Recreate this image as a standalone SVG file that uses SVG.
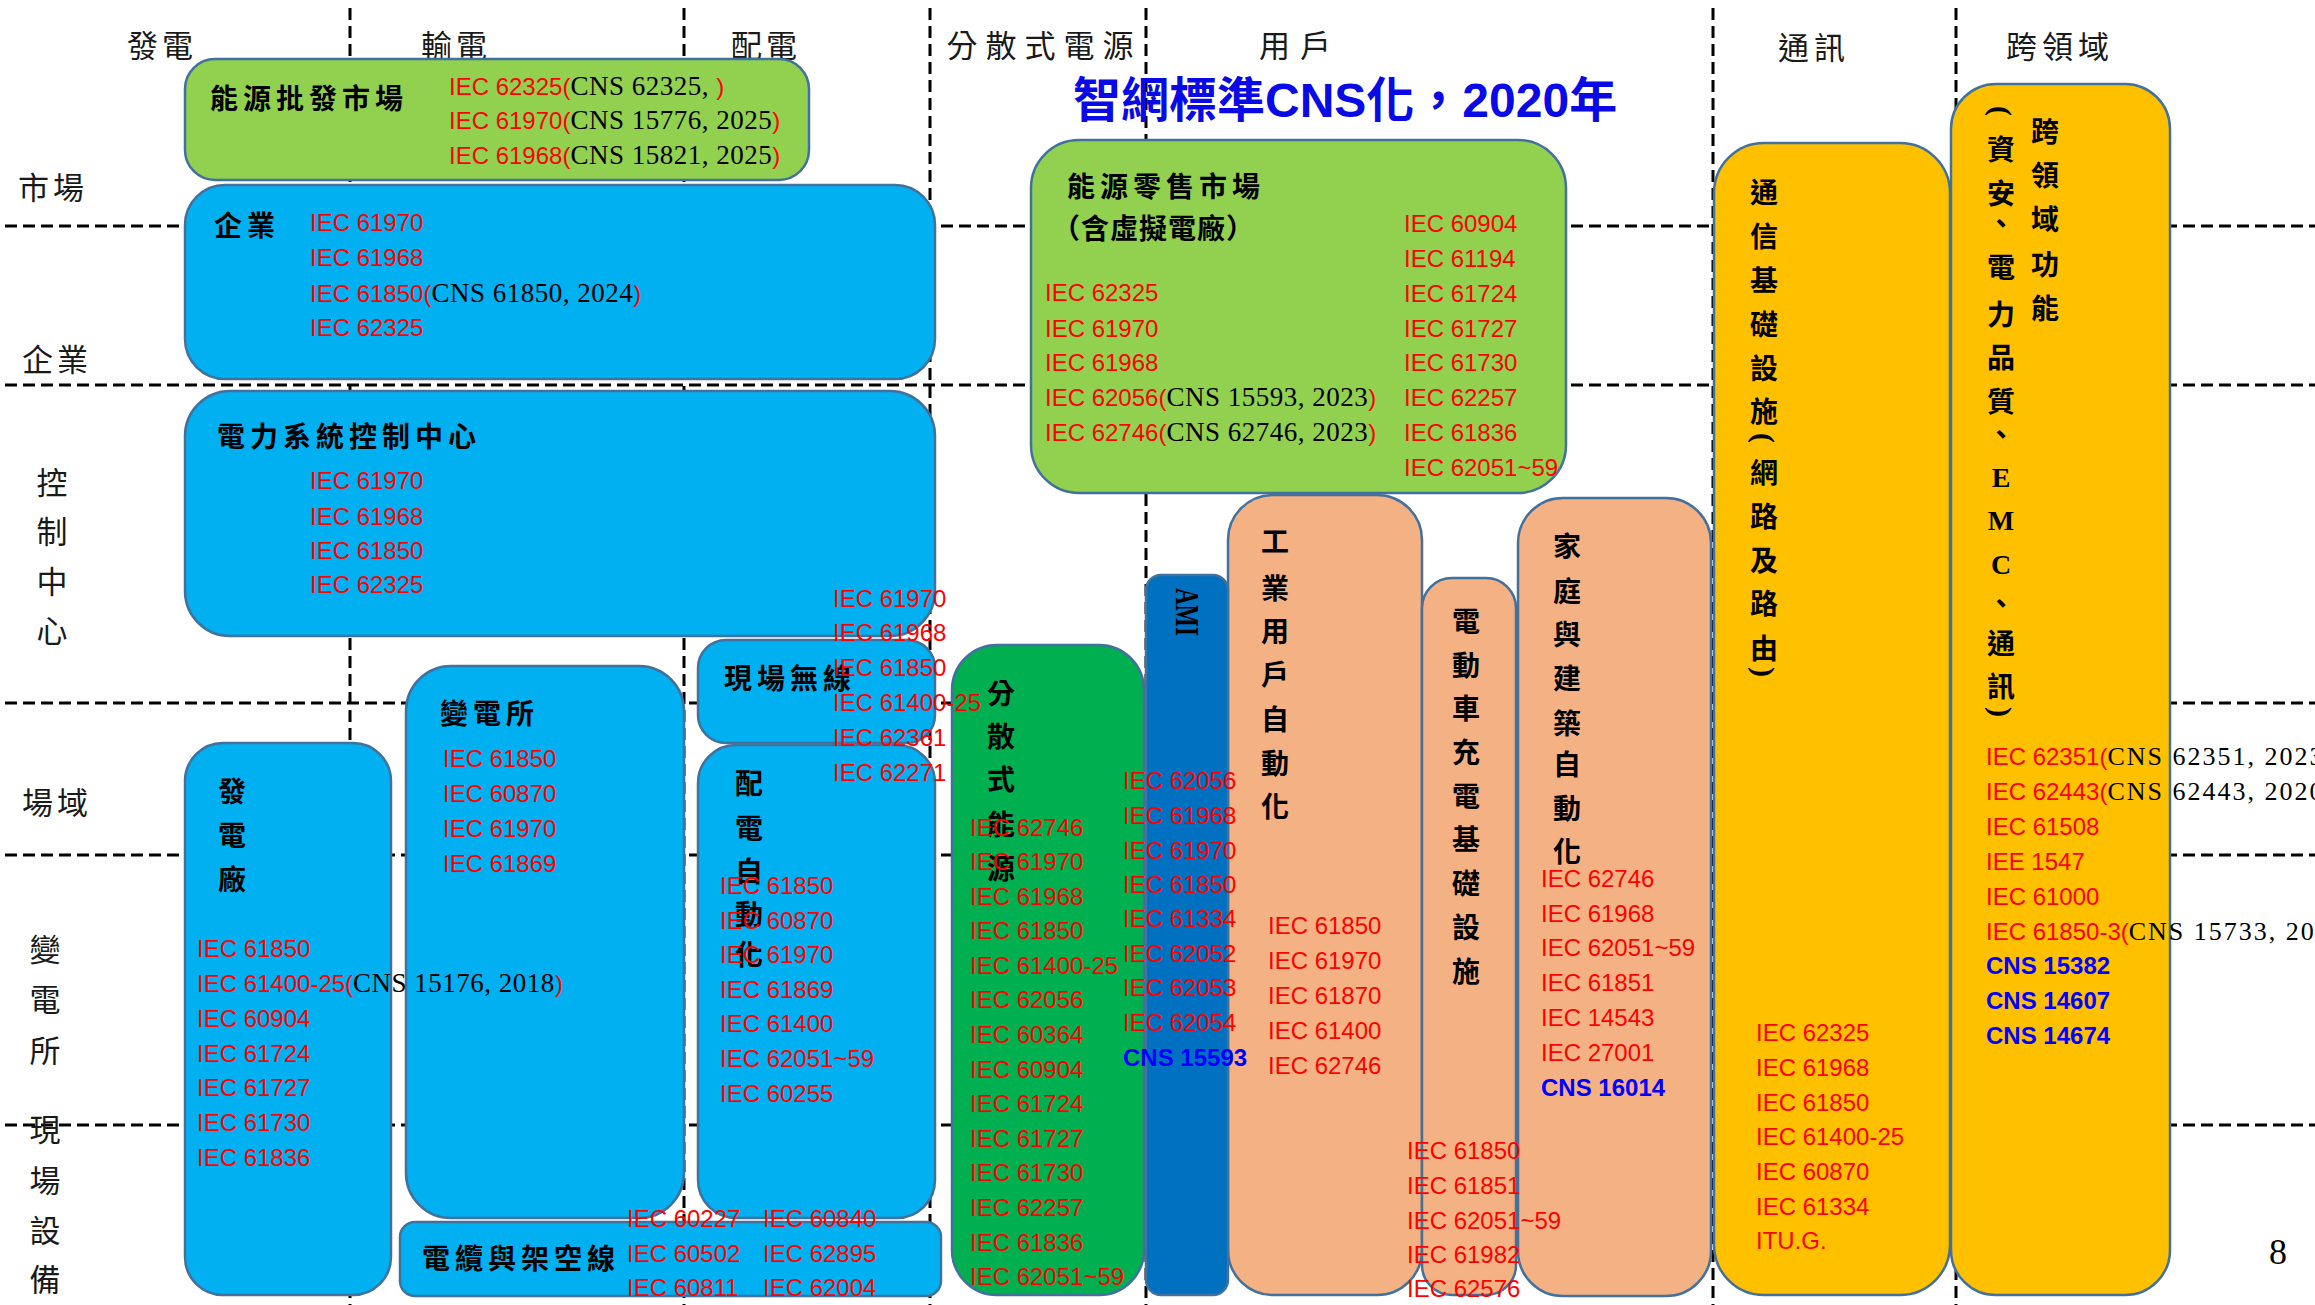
<svg xmlns="http://www.w3.org/2000/svg" width="2315" height="1305" viewBox="0 0 2315 1305">
<style>
text{dominant-baseline:central}
.hd{font-family:"Noto Sans CJK TC",sans-serif;font-size:31px;fill:#1a1a1a;text-anchor:middle}
.lb{font-family:"Noto Sans CJK TC",sans-serif;font-size:31px;fill:#1a1a1a;text-anchor:middle}
.tt{font-family:"Noto Sans CJK TC",sans-serif;font-weight:700;font-size:28px;letter-spacing:5px;fill:#000}
.vt{font-family:"Noto Sans CJK TC",sans-serif;font-weight:700;font-size:28px;text-anchor:middle;fill:#000}
.pr{font-family:"Liberation Serif",serif;font-weight:700;font-size:30px;text-anchor:middle;fill:#000}
.r{font-family:"Liberation Sans",sans-serif;font-size:24px;fill:#ff0000}
.k{font-family:"Liberation Serif",serif;font-size:27px;fill:#000;letter-spacing:0.5px}
.k2{font-family:"Liberation Serif",serif;font-size:26px;fill:#000;letter-spacing:2px}
.bl{font-family:"Liberation Sans",sans-serif;font-weight:700;font-size:24px;fill:#0000ff}
.box{stroke:#41719c;stroke-width:2.5}
.blue{fill:#00b0f0}.lg{fill:#92d050}.dg{fill:#00b050}.ami{fill:#0070c0}.sal{fill:#f4b183}.gold{fill:#ffc000}
.title{font-family:"Liberation Sans","Noto Sans CJK TC",sans-serif;font-weight:700;font-size:48px;fill:#0a0ae6}
</style>
<rect width="2315" height="1305" fill="#fff"/>
<g id="grid" fill="none" stroke="#000" stroke-width="3" stroke-dasharray="12 6">
<path d="M5 226H2315M5 385H2315M5 703H2315M5 855H2315M5 1125H2315"/>
<path d="M350 8V1305M684 8V1305M930 8V1305M1146 8V1305M1713 8V1305M1956 8V1305"/>
</g>
<g id="headers">
<text class="hd" x="162" y="43" style="letter-spacing:4px">發電</text>
<text class="hd" x="456" y="43" style="letter-spacing:4px">輸電</text>
<text class="hd" x="766" y="43" style="letter-spacing:4px">配電</text>
<text class="hd" x="1044" y="43" style="letter-spacing:8px">分散式電源</text>
<text class="hd" x="1300" y="43" style="letter-spacing:10px">用戶</text>
<text class="hd" x="1814" y="45" style="letter-spacing:5px">通訊</text>
<text class="hd" x="2060" y="44" style="letter-spacing:5px">跨領域</text>
</g>
<g id="row-labels">
<text class="lb" x="53" y="185" style="letter-spacing:4px">市場</text>
<text class="lb" x="57" y="357" style="letter-spacing:4px">企業</text>
<text class="lb" x="52 52 52 52" y="480 529 579 628">控制中心</text>
<text class="lb" x="57" y="800" style="letter-spacing:4px">場域</text>
<text class="lb" x="45 45 45" y="947 997 1048">變電所</text>
<text class="lb" x="45 45 45 45" y="1127 1178 1228 1277">現場設備</text>
</g>
<g id="wholesale-market">
<rect class="box lg" x="185" y="59" width="624" height="121" rx="30"/>
<text class="tt" x="210" y="97">能源批發市場</text>
<text class="r" x="449" y="86">IEC 62325(<tspan class="k">CNS 62325, </tspan>)</text>
<text class="r" x="449" y="120">IEC 61970(<tspan class="k">CNS 15776, 2025</tspan>)</text>
<text class="r" x="449" y="155">IEC 61968(<tspan class="k">CNS 15821, 2025</tspan>)</text>
</g>
<g id="enterprise">
<rect class="box blue" x="185" y="185" width="750" height="194" rx="40"/>
<text class="tt" x="214" y="224">企業</text>
<text class="r" x="310" y="222">IEC 61970</text>
<text class="r" x="310" y="257">IEC 61968</text>
<text class="r" x="310" y="293">IEC 61850(<tspan class="k">CNS 61850, 2024</tspan>)</text>
<text class="r" x="310" y="327">IEC 62325</text>
</g>
<g id="control-center">
<rect class="box blue" x="185" y="391" width="750" height="245" rx="45"/>
<text class="tt" x="217" y="435">電力系統控制中心</text>
<text class="r" x="310" y="480">IEC 61970</text>
<text class="r" x="310" y="516">IEC 61968</text>
<text class="r" x="310" y="550">IEC 61850</text>
<text class="r" x="310" y="584">IEC 62325</text>
</g>
<g id="retail-market">
<rect class="box lg" x="1031" y="140" width="535" height="353" rx="48"/>
<text class="tt" x="1067" y="185">能源零售市場</text>
<text class="tt" x="1052" y="227" style="letter-spacing:1px">（含虛擬電廠）</text>
<text class="r" x="1045" y="292">IEC 62325</text>
<text class="r" x="1045" y="328">IEC 61970</text>
<text class="r" x="1045" y="362">IEC 61968</text>
<text class="r" x="1045" y="397">IEC 62056(<tspan class="k">CNS 15593, 2023</tspan>)</text>
<text class="r" x="1045" y="432">IEC 62746(<tspan class="k">CNS 62746, 2023</tspan>)</text>
<text class="r" x="1404" y="223">IEC 60904</text>
<text class="r" x="1404" y="258">IEC 61194</text>
<text class="r" x="1404" y="293">IEC 61724</text>
<text class="r" x="1404" y="328">IEC 61727</text>
<text class="r" x="1404" y="362">IEC 61730</text>
<text class="r" x="1404" y="397">IEC 62257</text>
<text class="r" x="1404" y="432">IEC 61836</text>
<text class="r" x="1404" y="467">IEC 62051~59</text>
</g>
<g id="communication">
<rect class="box gold" x="1714" y="143" width="236" height="1152" rx="50"/>
<text class="vt" x="1764 1764 1764 1764 1764 1764 1764 1764 1764 1764 1764" y="191 235 279 323 367 410 471 515 559 602 647">通信基礎設施網路及路由</text>
<text class="pr" transform="translate(1764 438) rotate(90)">(</text>
<text class="pr" transform="translate(1764 672) rotate(90)">)</text>
<text class="r" x="1756" y="1032">IEC 62325</text>
<text class="r" x="1756" y="1067">IEC 61968</text>
<text class="r" x="1756" y="1102">IEC 61850</text>
<text class="r" x="1756" y="1136">IEC 61400-25</text>
<text class="r" x="1756" y="1171">IEC 60870</text>
<text class="r" x="1756" y="1206">IEC 61334</text>
<text class="r" x="1756" y="1240">ITU.G.</text>
</g>
<g id="cross-domain">
<rect class="box gold" x="1951" y="84" width="219" height="1211" rx="45"/>
<text class="vt" x="2045 2045 2045 2045 2045" y="130 174 218 263 307">跨領域功能</text>
<text class="pr" transform="translate(2001 111) rotate(90)">(</text>
<text class="vt" x="2001 2001 2001 2001 2001 2001 2001 2001 2001 2001 2001" y="148 192 222 266 313 356 400 433 602 642 685">資安、電力品質、、通訊</text>
<text class="pr" transform="translate(2001 712) rotate(90)">)</text>
<text class="vt" x="2001 2001 2001" y="477 520 564" style="font-family:'Liberation Serif',serif">EMC</text>
<text class="r" x="1986" y="756">IEC 62351(<tspan class="k2">CNS 62351, 2023</tspan></text>
<text class="r" x="1986" y="791">IEC 62443(<tspan class="k2">CNS 62443, 2020</tspan></text>
<text class="r" x="1986" y="826">IEC 61508</text>
<text class="r" x="1986" y="861">IEE 1547</text>
<text class="r" x="1986" y="896">IEC 61000</text>
<text class="r" x="1986" y="931">IEC 61850-3(<tspan class="k2">CNS 15733, 20</tspan></text>
<text class="bl" x="1986" y="965">CNS 15382</text>
<text class="bl" x="1986" y="1000">CNS 14607</text>
<text class="bl" x="1986" y="1035">CNS 14674</text>
</g>
<g id="substation">
<rect class="box blue" x="406" y="666" width="278" height="552" rx="45"/>
<text class="tt" x="440" y="712">變電所</text>
<text class="r" x="443" y="758">IEC 61850</text>
<text class="r" x="443" y="793">IEC 60870</text>
<text class="r" x="443" y="828">IEC 61970</text>
<text class="r" x="443" y="863">IEC 61869</text>
</g>
<g id="power-plant">
<rect class="box blue" x="185" y="743" width="206" height="552" rx="38"/>
<text class="vt" x="232 232 232" y="790 834 878">發電廠</text>
<text class="r" x="197" y="948">IEC 61850</text>
<text class="r" x="197" y="983">IEC 61400-25(<tspan class="k">CNS 15176, 2018</tspan>)</text>
<text class="r" x="197" y="1018">IEC 60904</text>
<text class="r" x="197" y="1053">IEC 61724</text>
<text class="r" x="197" y="1087">IEC 61727</text>
<text class="r" x="197" y="1122">IEC 61730</text>
<text class="r" x="197" y="1157">IEC 61836</text>
</g>
<g id="distribution-automation">
<rect class="box blue" x="698" y="745" width="237" height="473" rx="38"/>
<text class="vt" x="749 749 749 749 749" y="782 827 870 913 953">配電自動化</text>
<text class="r" x="720" y="885">IEC 61850</text>
<text class="r" x="720" y="920">IEC 60870</text>
<text class="r" x="720" y="954">IEC 61970</text>
<text class="r" x="720" y="989">IEC 61869</text>
<text class="r" x="720" y="1023">IEC 61400</text>
<text class="r" x="720" y="1058">IEC 62051~59</text>
<text class="r" x="720" y="1093">IEC 60255</text>
</g>
<g id="cables">
<rect class="box blue" x="400" y="1222" width="541" height="74" rx="15"/>
<text class="tt" x="422" y="1257">電纜與架空線</text>
<text class="r" x="627" y="1218">IEC 60227</text>
<text class="r" x="627" y="1253">IEC 60502</text>
<text class="r" x="627" y="1287">IEC 60811</text>
<text class="r" x="763" y="1218">IEC 60840</text>
<text class="r" x="763" y="1253">IEC 62895</text>
<text class="r" x="763" y="1287">IEC 62004</text>
</g>
<g id="industrial-automation">
<rect class="box sal" x="1228" y="495" width="194" height="800" rx="45"/>
<text class="vt" x="1275 1275 1275 1275 1275 1275 1275" y="540 587 630 673 718 762 805">工業用戶自動化</text>
<text class="r" x="1268" y="925">IEC 61850</text>
<text class="r" x="1268" y="960">IEC 61970</text>
<text class="r" x="1268" y="995">IEC 61870</text>
<text class="r" x="1268" y="1030">IEC 61400</text>
<text class="r" x="1268" y="1065">IEC 62746</text>
</g>
<g id="home-building-automation">
<rect class="box sal" x="1518" y="498" width="193" height="798" rx="45"/>
<text class="vt" x="1567 1567 1567 1567 1567 1567 1567 1567" y="545 590 633 677 722 763 807 850">家庭與建築自動化</text>
<text class="r" x="1541" y="878">IEC 62746</text>
<text class="r" x="1541" y="913">IEC 61968</text>
<text class="r" x="1541" y="947">IEC 62051~59</text>
<text class="r" x="1541" y="982">IEC 61851</text>
<text class="r" x="1541" y="1017">IEC 14543</text>
<text class="r" x="1541" y="1052">IEC 27001</text>
<text class="bl" x="1541" y="1087">CNS 16014</text>
</g>
<g id="ev-charging">
<rect class="box sal" x="1422" y="578" width="94" height="717" rx="30"/>
<text class="vt" x="1466 1466 1466 1466 1466 1466 1466 1466 1466" y="620 664 707 751 795 838 882 926 970">電動車充電基礎設施</text>
<text class="r" x="1407" y="1150">IEC 61850</text>
<text class="r" x="1407" y="1185">IEC 61851</text>
<text class="r" x="1407" y="1220">IEC 62051~59</text>
<text class="r" x="1407" y="1254">IEC 61982</text>
<text class="r" x="1407" y="1288">IEC 62576</text>
</g>
<g id="distributed-energy">
<rect class="box dg" x="952" y="645" width="192" height="650" rx="45"/>
<text class="vt" x="1001 1001 1001 1001 1001" y="692 735 778 823 867">分散式能源</text>
<text class="r" x="970" y="827">IEC 62746</text>
<text class="r" x="970" y="861">IEC 61970</text>
<text class="r" x="970" y="896">IEC 61968</text>
<text class="r" x="970" y="930">IEC 61850</text>
<text class="r" x="970" y="965">IEC 61400-25</text>
<text class="r" x="970" y="999">IEC 62056</text>
<text class="r" x="970" y="1034">IEC 60364</text>
<text class="r" x="970" y="1069">IEC 60904</text>
<text class="r" x="970" y="1103">IEC 61724</text>
<text class="r" x="970" y="1138">IEC 61727</text>
<text class="r" x="970" y="1172">IEC 61730</text>
<text class="r" x="970" y="1207">IEC 62257</text>
<text class="r" x="970" y="1242">IEC 61836</text>
<text class="r" x="970" y="1276">IEC 62051~59</text>
</g>
<g id="ami">
<rect class="box ami" x="1146" y="575" width="82" height="720" rx="15"/>
<text transform="translate(1187 612) rotate(90)" text-anchor="middle" style="font-family:'Liberation Serif',serif;font-weight:700;font-size:34px;fill:#000" textLength="48" lengthAdjust="spacingAndGlyphs">AMI</text>
<text class="r" x="1123" y="780">IEC 62056</text>
<text class="r" x="1123" y="815">IEC 61968</text>
<text class="r" x="1123" y="850">IEC 61970</text>
<text class="r" x="1123" y="884">IEC 61850</text>
<text class="r" x="1123" y="918">IEC 61334</text>
<text class="r" x="1123" y="953">IEC 62052</text>
<text class="r" x="1123" y="987">IEC 62053</text>
<text class="r" x="1123" y="1022">IEC 62054</text>
<text class="bl" x="1123" y="1057">CNS 15593</text>
</g>
<g id="field-wireless">
<rect class="box blue" x="698" y="640" width="237" height="103" rx="28"/>
<text class="tt" x="724" y="677">現場無線</text>
<text class="r" x="833" y="598">IEC 61970</text>
<text class="r" x="833" y="632">IEC 61968</text>
<text class="r" x="833" y="667">IEC 61850</text>
<text class="r" x="833" y="702">IEC 61400-25</text>
<text class="r" x="833" y="737">IEC 62361</text>
<text class="r" x="833" y="772">IEC 62271</text>
</g>
<text id="title" class="title" x="1073" y="100">智網標準CNS化，2020年</text>
<text id="page-number" x="2278" y="1252" text-anchor="middle" style="font-family:'Liberation Serif',serif;font-size:36px;fill:#000">8</text>
</svg>
